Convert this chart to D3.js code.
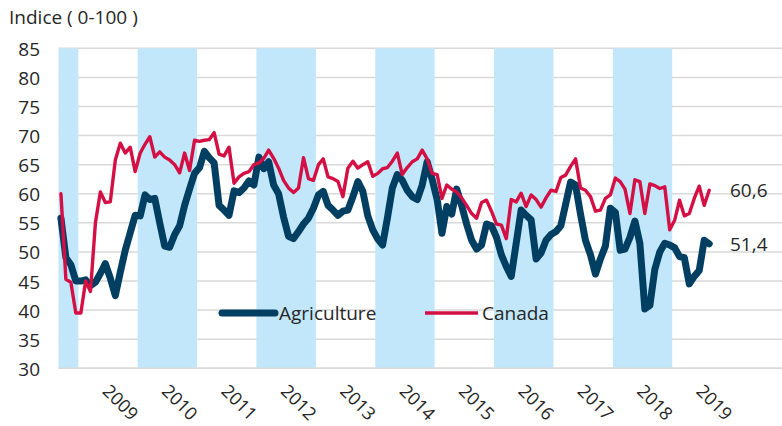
<!DOCTYPE html>
<html><head><meta charset="utf-8">
<script src="https://cdn.jsdelivr.net/npm/d3@7"></script>
<style>body{margin:0;background:#fff}svg{display:block;font-family:"Open Sans",sans-serif}</style>
</head><body><svg id="c" width="782" height="426"></svg>
<script>
const startMonth = new Date(2008, 8, 1);   // Sep 2008
const endMonth = new Date(2019, 8, 1);     // exclusive -> last = Aug 2019
const agriculture = [55.8,49,47.8,45,45,45.2,44.2,44.8,46.3,48,45.5,42.5,
  46.5,50.3,53.3,56.3,56.2,59.8,59,59.2,55,51,50.8,53,
  54.5,58,60.8,63.5,64.5,67.3,66.2,65.3,58,57.2,56.3,60.5,
  60.2,61,62.2,61.5,66.3,64.3,65.5,61.5,60,56,52.7,52.3,
  53.5,54.8,55.8,57.5,59.8,60.4,58,57.2,56.3,57,57.2,59.5,
  62.1,60.4,56.2,53.8,52.2,51.2,55.8,61,63.3,62.3,60.6,59.5,
  59,61.5,65.5,62.5,59,53.2,57.8,56.5,60.8,58,54.8,52,
  50.5,51.2,54.8,54.5,52.5,49.5,47.5,45.8,51.5,57.2,56.3,55.5,
  48.8,49.8,52,53,53.5,54.5,58.2,62,61.5,56.5,52,49.5,
  46.2,48.8,51,57.5,56.8,50.3,50.5,52.5,55.3,51.5,40.2,40.8,
  47,50,51.5,51.2,50.7,49.2,49,44.5,45.8,46.8,52,51.4];
const canada = [60,45.3,44.8,39.5,39.5,45,43.2,55,60.3,58.5,58.6,65.8,
  68.7,67,68,63.8,67,68.5,69.8,66.3,67.2,66.3,65.8,65,
  63.6,67,64,69.2,69,69.2,69.3,70.5,66.8,66.5,68,61.8,
  62.9,63.5,63.8,65,65.3,66.1,67.5,66.1,64.4,62.3,61,60.2,
  61,66.2,62.6,62.3,65,66,62.9,62.6,62.1,59.5,64.4,65.6,
  64.4,65,65.5,63,63.5,64.3,64.5,65.6,67,63.3,64.5,65.5,
  66,67.5,66,63.5,63.3,59.2,61.5,60.8,60.3,59.3,58,56.6,
  55.8,58.5,58.9,57,54.8,54.6,52.3,59,58.6,60.1,57.8,59.8,
  59,57.7,59.3,60.6,60.4,62.8,63.2,64.7,66,61,60.6,59.5,
  57,57.2,59.2,59.8,62.7,62.1,60.8,56.6,62.4,62.1,56.6,61.7,
  61.4,60.9,61.2,53.8,55.5,58.9,56.2,56.6,59.2,61.3,58,60.6];
const yTicks = [30,35,40,45,50,55,60,65,70,75,80,85];
const yearLabels = [2009,2010,2011,2012,2013,2014,2015,2016,2017,2018,2019];
const shadedYears = [2008,2010,2012,2014,2016,2018];
const seriesNames = ["Agriculture","Canada"];
const endLabels = ["51,4","60,6"];
const colors = {Agriculture:"#003e62", Canada:"#d30f44"};
const FS = 19;

const months = d3.timeMonth.range(startMonth, endMonth);
const mid = d => new Date((+d + +d3.timeMonth.offset(d,1))/2);

const svg = d3.select("#c");
const x = d3.scaleTime().domain([startMonth, new Date(2021,0,1)]).range([58.5, 791.1]);
const y = d3.scaleLinear().domain([30,85]).range([368.3, 48.3]);
const plotL = 58.5, plotR = 782;

// gridlines
svg.append("g").selectAll("line").data(yTicks).join("line")
  .attr("x1", plotL).attr("x2", plotR)
  .attr("y1", d=>y(d)).attr("y2", d=>y(d))
  .attr("stroke", "#d9d9d9").attr("stroke-width", 1.5);

// shaded years
svg.append("g").selectAll("rect").data(shadedYears).join("rect")
  .attr("x", d => x(d3.max([new Date(d,0,1), startMonth])))
  .attr("width", d => x(new Date(d+1,0,1)) - x(d3.max([new Date(d,0,1), startMonth])))
  .attr("y", y(85)).attr("height", y(30)-y(85))
  .attr("fill", "#c2e7fb");

// x axis line
svg.append("line").attr("x1", plotL).attr("x2", plotR)
  .attr("y1", y(30)).attr("y2", y(30)).attr("stroke", "#d9d9d9").attr("stroke-width", 1.5);

// y axis labels
const ya = svg.append("g").attr("transform", `translate(40,0)`)
  .call(d3.axisLeft(y).tickValues(yTicks).tickSize(0).tickPadding(0));
ya.select(".domain").remove();
ya.selectAll("text").attr("font-size", FS).attr("fill", "#262626")
  .attr("font-family", '"Open Sans",sans-serif').attr("dy", "0.37em");

// x axis labels
const xa = svg.append("g").attr("transform", `translate(0,${y(30)})`)
  .call(d3.axisBottom(x).tickValues(yearLabels.map(yr => new Date(yr,6,2))).tickFormat(d3.timeFormat("%Y")).tickSize(0));
xa.select(".domain").remove();
xa.selectAll("text").attr("font-size", 18).attr("fill", "#262626")
  .attr("font-family", '"Open Sans",sans-serif')
  .attr("y", 0).attr("dy", 0).attr("text-anchor", "start")
  .attr("transform", "translate(-7,24) rotate(45)");

// lines
const line = d3.line().x((d,i)=>x(mid(months[i]))).y(d=>y(d)).curve(d3.curveLinear);
svg.append("path").datum(agriculture).attr("d", line).attr("fill","none")
  .attr("stroke", colors.Agriculture).attr("stroke-width", 7).attr("stroke-linejoin","round").attr("stroke-linecap","round");
svg.append("path").datum(canada).attr("d", line).attr("fill","none")
  .attr("stroke", colors.Canada).attr("stroke-width", 3.4).attr("stroke-linejoin","round").attr("stroke-linecap","round");

// end labels
svg.append("text").attr("x", 730).attr("y", y(agriculture[agriculture.length-1])).attr("dy","0.37em")
  .attr("font-size", FS).attr("fill","#262626").text(endLabels[0]);
svg.append("text").attr("x", 730).attr("y", y(canada[canada.length-1])).attr("dy","0.37em")
  .attr("font-size", FS).attr("fill","#262626").text(endLabels[1]);

// legend
const leg = [{name:seriesNames[0], x:222, w:7},{name:seriesNames[1], x:425, w:3.4}];
leg.forEach(l => {
  svg.append("line").attr("x1", l.x).attr("x2", l.x+53).attr("y1", 313).attr("y2", 313)
    .attr("stroke", colors[l.name]).attr("stroke-width", l.w).attr("stroke-linecap", l.w>5?"round":"butt");
  svg.append("text").attr("x", l.x+57).attr("y", 313).attr("dy","0.37em")
    .attr("font-size", FS).attr("fill","#262626").text(l.name);
});

// title
svg.append("text").attr("x", 9).attr("y", 24).attr("font-size", FS).attr("fill","#262626").text("Indice ( 0-100 )");
</script></body></html>
